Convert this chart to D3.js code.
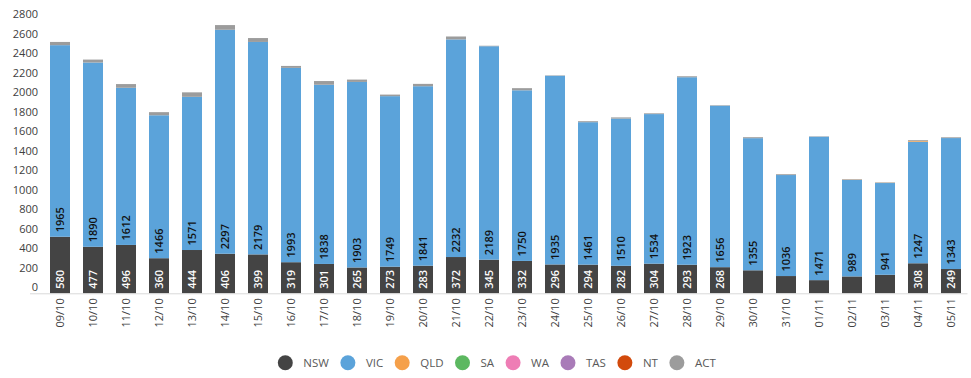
<!DOCTYPE html>
<html>
<head>
<meta charset="utf-8">
<script src="https://cdn.jsdelivr.net/npm/d3@7"></script>
<style>
  body { margin: 0; background: #fff; }
  svg { font-family: "Open Sans", sans-serif; }
</style>
</head>
<body>
<div id="chart-area"></div>
<script>
// Data
const dates = ['09/10', '10/10', '11/10', '12/10', '13/10', '14/10', '15/10', '16/10', '17/10', '18/10',
    '19/10', '20/10', '21/10', '22/10', '23/10', '24/10', '25/10', '26/10', '27/10', '28/10',
    '29/10', '30/10', '31/10', '01/11', '02/11', '03/11', '04/11', '05/11'];
const states = ['NSW', 'VIC', 'QLD', 'SA', 'WA', 'TAS', 'NT', 'ACT'];
const nsw = [580, 477, 496, 360, 444, 406, 399, 319, 301, 265, 273, 283, 372, 345, 332, 296, 294, 282,
    304, 293, 268, 236, 177, 135, 173, 190, 308, 249];
const vic = [1965, 1890, 1612, 1466, 1571, 2297, 2179, 1993, 1838, 1903, 1749, 1841, 2232, 2189, 1750,
    1935, 1461, 1510, 1534, 1923, 1656, 1355, 1036, 1471, 989, 941, 1247, 1343];
const qld = [0, 0, 0, 0, 0, 0, 0, 0, 0, 0, 0, 0, 0, 0, 0, 0, 0, 0, 0, 0, 0, 0, 1, 0, 3, 2, 8, 0];
const sa = [0, 0, 0, 0, 0, 0, 0, 0, 0, 0, 0, 0, 0, 0, 0, 0, 0, 0, 0, 0, 0, 0, 0, 0, 0, 0, 0, 0];
const wa = [0, 0, 0, 0, 0, 0, 0, 0, 0, 0, 0, 0, 0, 0, 0, 0, 0, 0, 0, 0, 0, 0, 0, 0, 0, 0, 0, 0];
const tas = [0, 0, 0, 0, 0, 0, 0, 0, 0, 0, 0, 0, 0, 0, 0, 0, 0, 0, 0, 0, 0, 0, 0, 0, 0, 0, 0, 0];
const nt = [0, 0, 0, 0, 0, 0, 0, 0, 0, 0, 0, 0, 0, 0, 0, 0, 0, 0, 0, 0, 0, 0, 0, 0, 0, 0, 0, 0];
const act = [33, 30, 38, 32, 46, 48, 40, 20, 38, 24, 16, 24, 30, 5, 22, 4, 10, 12, 8, 10, 5, 10, 8, 4,
    6, 5, 8, 8];
const yTicks = [0, 200, 400, 600, 800, 1000, 1200, 1400, 1600, 1800, 2000, 2200, 2400, 2600, 2800];

const colors = ['#444444', '#5ba3da', '#f5a04a', '#5cb860', '#ee7db5', '#a97bb8', '#d24a0c', '#9c9c9c'];
const labelColors = { NSW: '#ffffff', VIC: '#111111' };

// Table for the stack
const series = [nsw, vic, qld, sa, wa, tas, nt, act];
const table = dates.map((d, i) => {
    const row = { date: d };
    states.forEach((s, j) => { row[s] = series[j][i]; });
    return row;
});

const W = 971, H = 378;

const svg = d3.select('#chart-area')
    .append('svg')
        .attr('width', W)
        .attr('height', H);

// Scales
const x = d3.scaleBand()
    .domain(dates)
    .range([43.5, 967.5])
    .paddingInner(0.394)
    .paddingOuter(0.197);

const y = d3.scaleLinear()
    .domain([0, 2800])
    .range([293.3, 20.3]);

const color = d3.scaleOrdinal().domain(states).range(colors);

const stacked = d3.stack().keys(states)(table);

// Bars
const layers = svg.append('g')
    .selectAll('g')
    .data(stacked)
    .enter().append('g')
        .attr('fill', (d) => color(d.key));

layers.selectAll('rect')
    .data((d) => d)
    .enter().append('rect')
        .attr('x', (d) => x(d.data.date))
        .attr('width', x.bandwidth())
        .attr('y', (d) => y(d[1]))
        .attr('height', (d) => y(d[0]) - y(d[1]));

// Data labels on NSW and VIC (dropped when the segment is too short)
const labelled = stacked.filter((s) => s.key === 'NSW' || s.key === 'VIC');
labelled.forEach((s) => {
    s.forEach((d) => {
        const val = d[1] - d[0];
        const segH = y(d[0]) - y(d[1]);
        const cx = x(d.data.date) + x.bandwidth() / 2;
        const base = y(d[0]) - 4.5;
        const t = svg.append('text')
            .attr('transform', 'translate(' + cx + ',' + base + ') rotate(-90)')
            .attr('dy', '0.36em')
            .attr('font-size', '11px')
            .attr('font-weight', 600)
            .attr('fill', labelColors[s.key])
            .text(val);
        if (t.node().getComputedTextLength() + 5 > segH) t.remove();
    });
});

// X Axis
const xAxisGroup = svg.append('g')
    .attr('transform', 'translate(0, ' + y(0) + ')')
    .call(d3.axisBottom(x).tickSize(0).tickSizeOuter(0));

xAxisGroup.select('.domain')
    .attr('stroke', '#d9d9d9')
    .attr('d', 'M30,0.5H967.5');

xAxisGroup.selectAll('text')
    .attr('font-family', '"Open Sans", sans-serif')
    .attr('font-size', '11px')
    .attr('fill', '#404040')
    .attr('text-anchor', 'end')
    .attr('transform', 'rotate(-90)')
    .attr('x', -5)
    .attr('y', 0)
    .attr('dy', '0.35em');

// Y Axis
const yAxisGroup = svg.append('g')
    .attr('transform', 'translate(38, -6)')
    .call(d3.axisLeft(y).tickValues(yTicks).tickFormat(d3.format('d')).tickSize(0).tickPadding(0));

yAxisGroup.select('.domain').remove();
yAxisGroup.selectAll('text')
    .attr('font-family', '"Open Sans", sans-serif')
    .attr('font-size', '11px')
    .attr('fill', '#404040');

// Legend
const legend = svg.append('g')
    .attr('transform', 'translate(0, 362.7)');

let lx = 277.8;
states.forEach((s) => {
    legend.append('circle')
        .attr('cx', lx + 7.5)
        .attr('cy', 0)
        .attr('r', 7.5)
        .attr('fill', color(s));
    const t = legend.append('text')
        .attr('x', lx + 25.5)
        .attr('y', 0)
        .attr('dy', '0.35em')
        .attr('font-size', '11.5px')
        .attr('fill', '#595959')
        .text(s);
    lx = lx + 25.5 + t.node().getComputedTextLength() + 11.5;
});
</script>
</body>
</html>
